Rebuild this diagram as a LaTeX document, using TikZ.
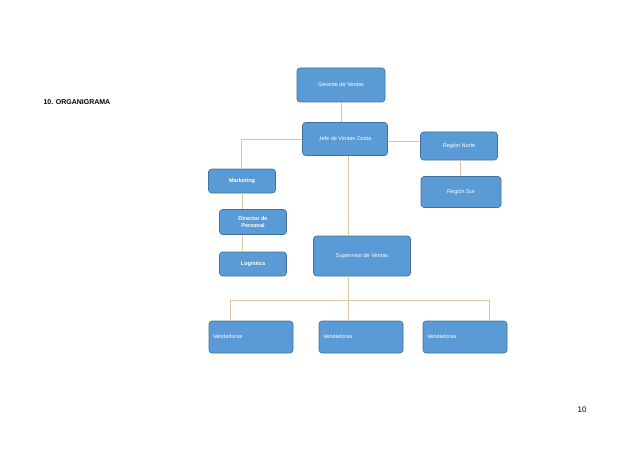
\documentclass[tikz,border=0pt]{standalone}
\usepackage{fontspec}
\setmainfont{Liberation Sans}
\begin{document}
\begin{tikzpicture}[x=1pt,y=-1pt,
  box/.style={draw=boxline,fill=boxfill,rounded corners=3pt,text=white,font=\fontsize{5.5}{6.5}\selectfont,align=center,inner sep=0pt,line width=0.6pt},
  conn/.style={draw=linecol,line width=1pt}]
\definecolor{boxfill}{HTML}{5B9BD5}
\definecolor{boxline}{HTML}{41719C}
\definecolor{linecol}{HTML}{DCC4A4}
\useasboundingbox (0,0) rectangle (638,452);
\node[anchor=west,font=\bfseries\fontsize{7}{8}\selectfont] (title) at (40,102) {10. ORGANIGRAMA};
\node[font=\fontsize{8}{9}\selectfont] (pg) at (582,410) {10};
\node[box,minimum width=88pt,minimum height=34pt] (ger) at (341,85) {Gerente de Ventas};
\node[box,minimum width=85pt,minimum height=33pt] (jefe) at (345,139) {Jefe de Ventas Costa};
\node[box,minimum width=77pt,minimum height=28pt] (norte) at (459,146) {Región Norte};
\node[box,minimum width=80pt,minimum height=31pt] (sur) at (461,192) {Región Sur};
\node[box,minimum width=67pt,minimum height=24pt,font=\bfseries\fontsize{5.5}{6.5}\selectfont] (mkt) at (242,181) {Marketing};
\node[box,minimum width=67pt,minimum height=25pt,font=\bfseries\fontsize{5.5}{6.5}\selectfont] (dir) at (253,222) {Director de\\Personal};
\node[box,minimum width=67pt,minimum height=24pt,font=\bfseries\fontsize{5.5}{6.5}\selectfont] (log) at (253,264) {Logística};
\node[box,minimum width=97pt,minimum height=40pt] (sup) at (362,256) {Supervisor de Ventas};
\node[box,minimum width=84pt,minimum height=32pt,text width=76pt,align=left] (v1) at (251,337) {Vendedoras};
\node[box,minimum width=84pt,minimum height=32pt,text width=76pt,align=left] (v2) at (361,337) {Vendedoras};
\node[box,minimum width=84pt,minimum height=32pt,text width=76pt,align=left] (v3) at (465,337) {Vendedoras};
\coordinate (bus) at (348,300);
\begin{scope}[on background layer/.try]
\end{scope}
\draw[conn] (ger.south) -- (jefe.north -| ger.south);
\draw[conn] (jefe.west |- 0,139) -- (241,139) -- (mkt.north -| 241,0);
\draw[conn] (jefe.east |- 0,141) -- (norte.west |- 0,141);
\draw[conn] (norte.south -| 460,0) -- (sur.north -| 460,0);
\draw[conn] (mkt.south -| 242,0) -- (dir.north -| 242,0);
\draw[conn] (dir.south -| 242,0) -- (log.north -| 242,0);
\draw[conn] (jefe.south -| 348,0) -- (sup.north -| 348,0);
\draw[conn] (sup.south -| 348,0) -- (bus);
\draw[conn] (v1.north -| 230,0) -- (230,300) -- (489,300) -- (v3.north -| 489,0);
\draw[conn] (bus) -- (v2.north -| 348,0);
\end{tikzpicture}
\end{document}
